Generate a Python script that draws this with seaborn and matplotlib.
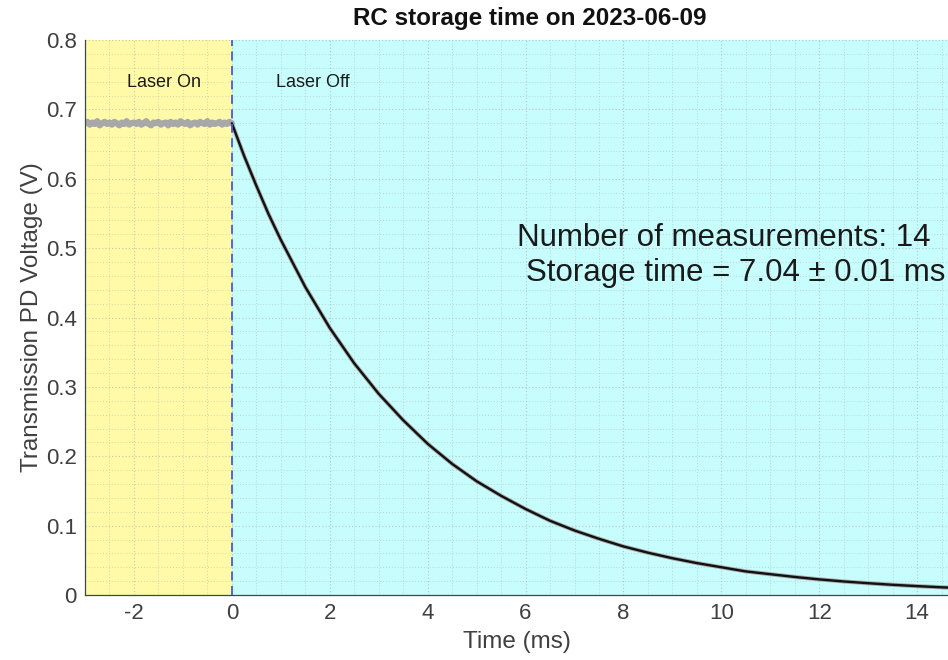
import numpy as np
import pandas as pd
import matplotlib
matplotlib.use("Agg")
import matplotlib.pyplot as plt
import seaborn as sns
from matplotlib.ticker import MultipleLocator

# ---- data ----
# laser-on plateau (noisy, ~0.68 V), sampled every 0.05 ms
on_time = [round(-3.0 + 0.05 * i, 2) for i in range(61)]
on_volt = [0.680, 0.682, 0.678, 0.681, 0.679, 0.683, 0.677, 0.680, 0.682, 0.679,
           0.681, 0.678, 0.682, 0.680, 0.677, 0.681, 0.679, 0.683, 0.678, 0.680,
           0.681, 0.679, 0.682, 0.678, 0.680, 0.683, 0.679, 0.677, 0.681, 0.680,
           0.682, 0.678, 0.680, 0.681, 0.677, 0.682, 0.679, 0.681, 0.678, 0.683,
           0.680, 0.679, 0.682, 0.677, 0.680, 0.681, 0.678, 0.682, 0.680, 0.679,
           0.683, 0.678, 0.681, 0.679, 0.680, 0.682, 0.678, 0.681, 0.679, 0.682,
           0.680]

decay_time = [0.0, 0.25, 0.5, 0.75, 1.0, 1.5, 2.0, 2.5, 3.0, 3.5, 4.0, 4.5, 5.0, 5.5, 6.0, 6.5,
              7.0, 7.5, 8.0, 8.5, 9.0, 9.5, 10.0, 10.5, 11.0, 11.5, 12.0, 12.5,
              13.0, 13.5, 14.0, 14.5, 14.63]
decay_volt = [0.680, 0.633, 0.590, 0.549, 0.512, 0.444, 0.385, 0.334, 0.290, 0.252, 0.218, 0.189,
              0.164, 0.143, 0.124, 0.107, 0.093, 0.081, 0.070, 0.061, 0.053, 0.046,
              0.040, 0.034, 0.030, 0.026, 0.0225, 0.0195, 0.017, 0.0147, 0.0128,
              0.0111, 0.0107]

x_ticks = [-2, 0, 2, 4, 6, 8, 10, 12, 14]
y_ticks = [0, 0.1, 0.2, 0.3, 0.4, 0.5, 0.6, 0.7, 0.8]
x_tick_labels = ["-2", "0", "2", "4", "6", "8", "10", "12", "14"]
y_tick_labels = ["0", "0.1", "0.2", "0.3", "0.4", "0.5", "0.6", "0.7", "0.8"]

title = "RC storage time on 2023-06-09"
n_meas = 14
tau = "7.04"
tau_err = "0.01"

# ---- plot ----
sns.set_style("white")
plt.rcParams['font.family'] = ['Liberation Sans', 'DejaVu Sans']

fig = plt.figure(figsize=(9.48, 6.6), dpi=100)
ax = fig.add_axes([85/948, 1 - 595/660, 1 - 85/948, (595 - 40)/660])

x_min, x_max = -3.0, 14.63
ax.axvspan(x_min, 0, color="#FFFAA8", zorder=0, lw=0)
ax.axvspan(0, x_max, color="#C8FDFD", zorder=0, lw=0)

on_df = pd.DataFrame({"t": on_time, "v": on_volt})
dec_df = pd.DataFrame({"t": decay_time, "v": decay_volt})

sns.lineplot(data=on_df, x="t", y="v", ax=ax, color="#A8A8A8", lw=4.5, zorder=3)
sns.lineplot(data=dec_df, x="t", y="v", ax=ax, color="#A8A8A8", lw=3.0, zorder=3)
sns.lineplot(data=dec_df, x="t", y="v", ax=ax, color="#111111", lw=1.7, zorder=4)

ax.axvline(0, color="#4C5BD4", ls=(0, (5, 3)), lw=1.3, zorder=5)

ax.set_xlim(x_min, x_max)
ax.set_ylim(0, 0.8)
ax.set_xticks(x_ticks)
ax.set_xticklabels(x_tick_labels)
ax.set_yticks(y_ticks)
ax.set_yticklabels(y_tick_labels)
ax.xaxis.set_minor_locator(MultipleLocator(0.5))
ax.yaxis.set_minor_locator(MultipleLocator(0.02))

ax.grid(True, which="major", ls=(0, (1, 2)), color="#9aa0a0", lw=0.8, alpha=0.55, zorder=1)
ax.grid(True, which="minor", ls=(0, (1, 2)), color="#9aa0a0", lw=0.7, alpha=0.4, zorder=1)
ax.set_axisbelow(False)

for s in ["top", "right"]:
    ax.spines[s].set_visible(False)
for s in ["left", "bottom"]:
    ax.spines[s].set_color("#3a4a4a")
    ax.spines[s].set_linewidth(0.9)
    ax.spines[s].set_zorder(6)

ax.tick_params(axis="both", which="major", direction="in", length=6, width=0.9,
               color="#3a4a4a", labelsize=16, labelcolor="#404040", pad=6)
ax.tick_params(axis="both", which="minor", length=0)

ax.set_xlabel("Time (ms)", fontsize=17.5, color="#404040", labelpad=5)
ax.set_ylabel("Transmission PD Voltage (V)", fontsize=17.5, color="#404040", labelpad=2)

fig.text(530/948, 1 - 18/660, title, ha="center", va="center",
         fontsize=17.5, fontweight="bold", color="#111111")

ax.text(-1.39, 0.739, "Laser On", ha="center", va="center", fontsize=13, color="#1a1a1a", zorder=7)
ax.text(1.65, 0.739, "Laser Off", ha="center", va="center", fontsize=13, color="#1a1a1a", zorder=7)

ax.text(10.04, 0.515, f"Number of measurements: {n_meas}", ha="center", va="center",
        fontsize=22.5, color="#1a1a1a", zorder=7)
ax.text(10.29, 0.464, f"Storage time = {tau} \u00b1 {tau_err} ms", ha="center", va="center",
        fontsize=22.5, color="#1a1a1a", zorder=7)

fig.savefig("out.png", dpi=100)
